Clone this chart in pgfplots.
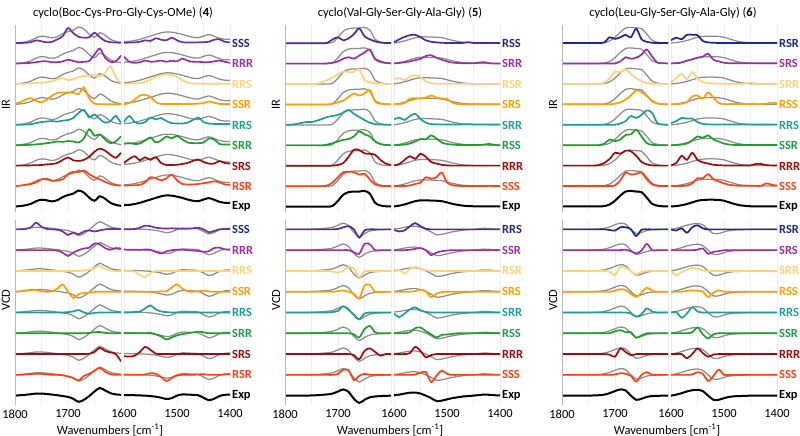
\documentclass[border=0pt]{standalone}
\usepackage{fontspec}
\setmainfont{Carlito}
\usepackage{pgfplots}
\usepackage{pgfplotstable}
\pgfplotsset{compat=1.18}

\definecolor{A1}{HTML}{7030A0}
\definecolor{B1}{HTML}{4B2A9E}
\definecolor{C1}{HTML}{1B2A8C}
\definecolor{K2}{HTML}{9B30A5}
\definecolor{K3}{HTML}{FFD27A}
\definecolor{K4}{HTML}{FFA000}
\definecolor{K5}{HTML}{1E9E9A}
\definecolor{K6}{HTML}{1E9E2A}
\definecolor{K7}{HTML}{A00A0A}
\definecolor{K8}{HTML}{FF4114}
\definecolor{GR}{HTML}{8C8C8C}
\definecolor{L1}{HTML}{1F2A80}
\colorlet{A2}{K2}\colorlet{A3}{K3}\colorlet{A4}{K4}\colorlet{A5}{K5}\colorlet{A6}{K6}\colorlet{A7}{K7}\colorlet{A8}{K8}
\colorlet{B2}{K2}\colorlet{B3}{K3}\colorlet{B4}{K4}\colorlet{B5}{K5}\colorlet{B6}{K6}\colorlet{B7}{K7}\colorlet{B8}{K8}
\colorlet{C2}{K2}\colorlet{C3}{K3}\colorlet{C4}{K4}\colorlet{C5}{K5}\colorlet{C6}{K6}\colorlet{C7}{K7}\colorlet{C8}{K8}
\colorlet{L2}{K2}\colorlet{L3}{K3}\colorlet{L4}{K4}\colorlet{L5}{K5}\definecolor{L6}{HTML}{239B4A}\colorlet{L7}{K7}\colorlet{L8}{K8}

% values in percent of the trace spacing
\pgfplotstableread{
x e c1 c2 c3 c4 c5 c6 c7 c8
1800 2 2 2 2 5 2 2 2 2
1790 4 2 2 2 12 2 2 2 4
1780 8 3 3 3 25 3 3 2 8
1770 15 6 5 4 32 5 4 3 12
1760 28 15 8 6 18 10 6 4 20
1750 35 10 12 8 12 15 8 5 35
1740 32 5 12 10 25 18 12 8 38
1730 27 8 8 15 45 20 15 10 28
1720 33 20 8 25 58 17 20 15 30
1710 48 35 12 30 60 22 18 30 35
1700 58 75 20 20 60 25 22 42 60
1690 65 50 14 25 58 35 20 28 72
1680 80 32 8 35 52 60 15 25 70
1670 70 28 10 40 85 75 35 30 78
1660 45 30 14 42 30 38 80 45 60
1650 30 52 45 45 5 52 48 70 45
1640 52 30 75 40 3 30 55 85 35
1630 40 12 30 55 2 12 30 75 22
1620 20 6 10 88 2 20 12 55 12
1610 10 4 12 35 2 45 20 40 6
1600 5 3 40 5 2 10 45 65 4
}\PAIRL
\pgfplotstableread{
x e c1 c2 c3 c4 c5 c6 c7 c8
1600 8 3 35 2 2 15 10 15 5
1590 10 4 10 3 8 45 12 35 5
1580 14 5 5 4 25 15 8 48 6
1570 20 8 8 6 45 8 10 28 8
1560 28 15 16 12 48 15 25 43 20
1550 36 12 10 22 38 37 40 30 45
1540 44 25 12 35 12 28 15 43 40
1530 52 18 16 45 4 35 25 15 30
1520 56 15 10 48 3 20 45 5 40
1510 55 28 15 45 3 10 35 5 58
1500 50 15 12 35 3 8 48 6 30
1490 44 6 26 20 3 8 30 10 12
1480 36 4 15 8 3 12 15 15 10
1470 30 4 10 4 4 25 12 25 10
1460 28 5 10 3 5 37 12 32 12
1450 36 6 8 3 8 15 15 20 16
1440 43 8 8 3 16 8 35 12 20
1430 35 18 12 3 10 6 30 12 25
1420 25 20 16 3 4 6 8 24 20
1410 20 8 10 3 3 6 5 15 10
1400 20 5 5 3 3 6 5 12 8
}\PAIRR
\pgfplotstableread{
x e c1 c2 c3 c4 c5 c6 c7 c8
1800 0 0 0 0 0 0 0 0 0
1790 2 0 0 0 2 0 0 0 0
1780 4 2 0 0 6 0 0 0 2
1770 7 10 0 0 10 0 0 0 4
1760 10 32 0 0 8 0 0 0 5
1750 10 12 0 0 2 0 0 0 5
1740 8 2 0 0 0 0 0 0 2
1730 5 0 0 0 2 0 0 0 0
1720 2 -2 -2 0 15 0 0 0 0
1710 -2 -10 -12 0 35 0 0 0 -2
1700 -6 -27 -28 0 0 2 0 0 -8
1690 -15 -15 -12 0 -30 5 0 0 -15
1680 -30 -24 0 0 -12 12 0 0 -27
1670 -20 -10 8 2 -6 0 0 0 -5
1660 -2 -5 12 5 -4 -6 2 2 5
1650 20 -10 32 15 -2 -2 5 10 20
1640 37 -5 28 25 0 0 6 30 34
1630 25 0 10 10 0 0 2 15 15
1620 12 2 2 2 0 0 0 8 3
1610 6 2 10 0 0 0 0 0 0
1600 4 2 8 0 0 0 0 -35 0
}\PAVL
\pgfplotstableread{
x e c1 c2 c3 c4 c5 c6 c7 c8
1600 3 0 3 0 0 0 0 -10 0
1590 2 0 2 0 0 0 0 -12 0
1580 2 2 2 -3 0 2 0 -8 0
1570 1 8 2 -20 0 5 0 10 0
1560 0 18 3 -30 0 20 0 35 2
1550 -2 15 2 -10 0 34 2 20 8
1540 -5 8 -8 0 0 15 -5 2 5
1530 -10 5 -16 0 2 5 -15 0 -10
1520 -16 4 -6 0 2 2 -30 0 -30
1510 -12 5 0 0 20 0 -20 0 -15
1500 0 4 2 0 35 0 -10 0 -3
1490 6 3 2 0 15 0 -4 0 0
1480 5 3 0 0 2 0 0 0 0
1470 4 5 -2 0 0 0 4 0 0
1460 2 8 -4 0 2 0 8 0 2
1450 -10 0 -8 0 5 0 5 0 3
1440 -22 -14 -5 0 2 0 0 0 0
1430 -15 -8 10 0 0 0 0 0 0
1420 -2 0 12 0 0 0 0 0 0
1410 4 2 4 0 0 0 0 0 2
1400 5 2 2 0 0 0 0 0 3
}\PAVR
\pgfplotstableread{
x e c1 c2 c3 c4 c5 c6 c7 c8
1800 1 1 1 1 1 1 1 1 1
1790 1 1 1 1 1 2 1 1 1
1780 1 1 1 1 1 5 1 1 1
1770 1 1 1 1 1 10 1 1 1
1760 1 1 1 1 1 15 1 1 1
1750 1 1 1 1 1 15 1 1 1
1740 1 1 1 3 1 22 1 1 1
1730 1 1 1 10 1 30 1 1 1
1720 1 3 2 22 1 40 5 1 5
1710 5 20 5 32 5 45 12 2 20
1700 30 30 12 50 12 50 20 5 45
1690 60 15 25 62 20 62 28 15 70
1680 72 25 32 60 38 75 32 45 72
1670 75 45 25 60 55 55 45 80 70
1660 75 73 40 72 45 40 70 78 58
1650 78 35 55 20 55 25 55 62 62
1640 65 20 70 10 72 12 45 60 35
1630 20 10 25 5 15 5 20 55 10
1620 7 4 12 3 5 3 8 30 3
1610 3 2 5 2 2 2 3 12 2
1600 2 2 2 2 2 2 2 5 2
}\PBIRL
\pgfplotstableread{
x e c1 c2 c3 c4 c5 c6 c7 c8
1600 2 5 2 25 2 28 2 3 2
1590 6 20 4 30 3 37 3 10 2
1580 12 32 8 20 8 25 5 30 2
1570 20 40 12 38 30 45 10 48 5
1560 28 42 18 44 32 55 20 35 12
1550 32 30 25 35 30 30 32 60 20
1540 32 15 38 15 35 12 30 45 45
1530 31 8 42 5 45 5 50 20 38
1520 30 5 30 3 35 4 35 12 45
1510 28 3 20 2 30 3 15 6 68
1500 22 2 12 2 28 3 8 3 20
1490 15 2 6 2 10 3 5 2 6
1480 10 2 4 2 3 3 3 2 3
1470 6 2 3 2 2 3 3 2 2
1460 4 6 3 2 2 5 3 2 2
1450 3 2 3 2 2 3 3 2 2
1440 3 2 6 2 2 3 3 2 2
1430 3 2 8 2 2 3 5 2 2
1420 2 2 3 2 2 3 8 2 3
1410 2 2 2 2 2 3 3 2 2
1400 2 2 2 2 2 3 2 2 2
}\PBIRR
\pgfplotstableread{
x e c1 c2 c3 c4 c5 c6 c7 c8
1800 0 0 0 0 0 0 0 0 0
1790 0 0 0 0 0 0 0 0 0
1780 0 0 0 0 0 0 0 0 0
1770 0 0 0 0 0 0 0 0 0
1760 0 0 0 0 0 0 0 0 0
1750 1 0 0 0 0 0 0 0 0
1740 2 0 0 0 0 0 0 0 0
1730 4 0 0 0 0 0 0 0 0
1720 6 0 0 0 0 0 0 0 0
1710 10 0 0 -3 0 2 0 0 0
1700 20 2 0 -8 3 8 0 0 5
1690 30 10 0 0 6 30 0 0 25
1680 18 15 0 18 0 12 0 0 22
1670 -15 0 -10 10 -10 -10 -5 -5 -25
1660 -35 -40 -18 -32 -32 -32 -20 -25 -5
1650 -20 -5 30 -2 30 -5 20 15 5
1640 -8 0 28 0 32 0 35 28 0
1630 -4 0 0 0 0 0 5 10 0
1620 -2 0 0 0 0 0 0 -8 0
1610 -1 0 0 0 0 0 0 0 0
1600 0 0 0 0 0 0 0 0 0
}\PBVL
\pgfplotstableread{
x e c1 c2 c3 c4 c5 c6 c7 c8
1600 2 -3 0 -5 0 -5 0 0 0
1590 5 -10 0 5 0 -22 0 0 0
1580 10 -5 0 -13 0 -5 0 0 0
1570 14 15 2 10 0 15 5 5 0
1560 15 30 6 20 3 25 25 35 2
1550 10 15 10 10 10 10 28 15 10
1540 0 3 0 3 2 3 10 -16 14
1530 -12 0 -24 0 -26 0 -5 -5 -35
1520 -26 0 -12 0 -10 0 -20 0 -5
1510 -24 0 -5 0 -2 0 -8 0 20
1500 -18 0 -2 0 0 0 -6 0 5
1490 -12 0 0 0 0 0 -3 0 0
1480 -8 0 0 0 0 0 0 0 0
1470 -4 0 0 0 0 0 0 0 0
1460 -2 0 0 0 0 0 0 0 0
1450 0 0 0 0 0 0 0 0 0
1440 3 0 0 0 0 0 0 0 0
1430 5 0 0 0 0 0 0 0 0
1420 4 0 0 0 0 0 0 0 0
1410 2 0 0 0 0 0 0 0 0
1400 1 0 0 0 0 0 0 0 0
}\PBVR
\pgfplotstableread{
x e c1 c2 c3 c4 c5 c6 c7 c8
1800 2 2 2 2 2 2 2 2 2
1790 2 2 2 2 2 2 2 2 2
1780 2 2 2 2 2 2 2 2 2
1770 2 2 2 2 2 2 2 2 2
1760 2 2 2 2 2 2 2 2 2
1750 2 2 2 2 2 2 2 2 2
1740 2 2 2 2 2 2 2 2 2
1730 2 2 2 2 2 2 2 5 2
1720 4 5 2 8 2 2 10 15 2
1710 12 30 2 30 2 2 30 35 2
1700 30 22 2 62 5 2 22 65 5
1690 55 30 12 58 12 8 30 60 30
1680 75 42 32 72 25 20 52 75 68
1670 78 30 25 50 45 45 55 72 58
1660 75 72 30 30 70 35 78 50 62
1650 72 20 45 15 62 50 45 20 68
1640 45 8 70 6 42 72 12 8 35
1630 15 3 35 3 20 60 4 3 10
1620 6 2 6 2 6 10 2 2 3
1610 3 2 3 2 3 3 2 2 2
1600 2 2 2 2 2 2 2 2 2
}\PCIRL
\pgfplotstableread{
x e c1 c2 c3 c4 c5 c6 c7 c8
1600 2 15 2 10 2 10 2 3 2
1590 4 28 3 30 3 20 3 15 2
1580 8 20 6 50 5 35 5 50 2
1570 14 42 16 25 12 32 10 30 5
1560 22 42 22 60 40 32 25 65 15
1550 30 40 30 28 45 15 45 30 40
1540 34 12 35 10 30 6 38 18 40
1530 35 5 50 6 60 4 50 12 60
1520 35 3 20 4 35 3 30 6 35
1510 34 2 12 3 8 3 20 4 25
1500 30 2 5 3 3 3 10 3 15
1490 22 2 3 3 3 3 5 3 8
1480 14 2 3 3 3 3 3 3 5
1470 8 2 3 3 3 3 3 3 3
1460 5 2 3 3 3 3 3 3 3
1450 3 2 3 8 3 3 3 3 3
1440 2 2 3 3 3 3 3 10 3
1430 2 2 3 3 3 3 3 10 3
1420 2 2 3 3 5 3 3 4 15
1410 2 2 3 3 10 3 3 3 8
1400 2 2 3 3 5 3 3 3 4
}\PCIRR
\pgfplotstableread{
x e c1 c2 c3 c4 c5 c6 c7 c8
1800 0 0 0 0 0 0 0 0 0
1790 0 0 0 0 0 0 0 0 0
1780 0 0 0 0 0 0 0 0 0
1770 0 0 0 0 0 0 0 0 0
1760 0 0 0 0 0 0 0 0 0
1750 0 0 0 0 0 0 0 0 0
1740 1 0 0 0 0 0 0 0 0
1730 2 0 0 0 0 0 0 0 0
1720 5 0 0 0 0 0 0 0 0
1710 12 -3 0 -5 0 0 0 -3 0
1700 22 -6 0 -20 5 0 10 -13 2
1690 30 10 0 20 12 0 15 27 8
1680 25 10 2 15 8 0 5 10 5
1670 0 0 -5 0 -10 -5 5 -5 -5
1660 -20 -32 -16 -16 -25 -20 -22 0 -32
1650 -15 -2 -2 -5 -5 -8 -10 0 0
1640 -6 0 30 0 20 20 0 0 13
1630 -2 0 0 0 5 5 0 0 0
1620 -1 0 0 0 0 0 0 0 0
1610 0 0 0 0 0 0 0 0 0
1600 0 0 0 0 0 0 0 0 0
}\PCVL
\pgfplotstableread{
x e c1 c2 c3 c4 c5 c6 c7 c8
1600 0 0 0 0 0 0 0 0 0
1590 5 -6 0 -22 0 2 0 0 0
1580 12 5 0 -5 0 -25 0 0 0
1570 20 -16 0 5 4 -5 0 -20 0
1560 26 10 0 15 6 25 5 0 2
1550 28 20 2 10 5 5 27 27 13
1540 22 5 8 2 0 0 -5 5 5
1530 0 0 -18 0 -25 0 -25 -13 -30
1520 -20 0 -8 0 -5 0 -5 -2 -5
1510 -20 0 -5 0 6 0 0 0 25
1500 -12 0 0 0 0 0 0 0 0
1490 -6 0 0 0 0 0 0 0 0
1480 -3 0 0 0 0 0 0 0 0
1470 -2 0 0 0 0 0 0 0 0
1460 -1 0 0 0 0 0 0 0 0
1450 0 0 0 0 0 0 0 0 0
1440 0 0 0 0 0 0 0 0 0
1430 0 0 0 0 0 0 0 0 0
1420 0 0 0 0 0 0 0 0 0
1410 0 0 0 0 0 0 0 0 0
1400 0 0 0 0 0 0 0 0 0
}\PCVR

\tikzset{lab/.style={anchor=west, xshift=2bp, inner sep=0pt, font=\fontsize{12.5}{14}\selectfont\bfseries}}
\pgfplotsset{
  gline/.style={draw=GR, line width=1.25bp, smooth, tension=0.5, mark=none},
  cline/.style={line width=1.7bp, smooth, tension=0.5, mark=none},
  kline/.style={draw=black, line width=2bp, smooth, tension=0.5, mark=none},
  sub/.style={scale only axis, width=106bp, x dir=reverse, clip mode=individual,
    axis line style={draw=none}, xtick style={draw=none}, ytick=\empty,
    major tick length=0pt, xmajorgrids, grid style={gray!14, line width=0.4bp},
    tick label style={font=\fontsize{12.5}{14}\selectfont},
    /pgf/number format/assume math mode=true, anchor=south west},
  irax/.style={height=187bp, ymin=-0.25, ymax=8.9, xticklabels={}},
  vcdax/.style={height=185bp, ymin=-0.45, ymax=8.45, xticklabel style={yshift=-1bp}},
  Lax/.style={xmin=1600, xmax=1800, xtick={1800,1750,1700,1650,1600}},
  Rax/.style={xmin=1400, xmax=1600, xtick={1600,1550,1500,1450,1400}},
  Lvl/.style={xticklabels={1800,,1700,,}},
  Rvl/.style={xticklabels={1600,,1500,,1400}},
}
\newcommand{\stack}[2]{%
  \pgfplotsinvokeforeach{1,...,8}{%
    \addplot[gline] table[x=x, y expr=\thisrow{e}/100+9-##1] {#1};
    \addplot[cline, draw=#2##1] table[x=x, y expr=\thisrow{c##1}/100+9-##1] {#1};
  }%
  \addplot[kline] table[x=x, y expr=\thisrow{e}/100] {#1};
}
\newcommand{\yline}{\draw[gray!55, line width=0.5bp] (axis description cs:0,0) -- (axis description cs:0,1);}
\newcommand{\lbls}[8]{%
  \node[lab,text=L1] at (axis cs:1400,8) {#1};
  \node[lab,text=L2] at (axis cs:1400,7) {#2};
  \node[lab,text=L3] at (axis cs:1400,6) {#3};
  \node[lab,text=L4] at (axis cs:1400,5) {#4};
  \node[lab,text=L5] at (axis cs:1400,4) {#5};
  \node[lab,text=L6] at (axis cs:1400,3) {#6};
  \node[lab,text=L7] at (axis cs:1400,2) {#7};
  \node[lab,text=L8] at (axis cs:1400,1) {#8};
  \node[lab,text=black] at (axis cs:1400,0) {Exp};
}

\begin{document}
\begin{tikzpicture}
\path[use as bounding box] (0,0) rectangle (800bp,436bp);
% ---------- panel 4
\begin{axis}[sub,irax,Lax,at={(15bp,224bp)}]
\stack{\PAIRL}{A}\yline
\end{axis}
\begin{axis}[sub,irax,Rax,at={(124bp,224bp)}]
\stack{\PAIRR}{A}
\lbls{SSS}{RRR}{RRS}{SSR}{RRS}{SRR}{SRS}{RSR}
\end{axis}
\begin{axis}[sub,vcdax,Lax,Lvl,at={(15bp,31bp)}]
\stack{\PAVL}{A}\yline
\end{axis}
\begin{axis}[sub,vcdax,Rax,Rvl,at={(124bp,31bp)}]
\stack{\PAVR}{A}
\lbls{SSS}{RRR}{RRS}{SSR}{RRS}{SRR}{SRS}{RSR}
\end{axis}
% ---------- panel 5
\begin{axis}[sub,irax,Lax,at={(285bp,224bp)}]
\stack{\PBIRL}{B}\yline
\end{axis}
\begin{axis}[sub,irax,Rax,at={(394bp,224bp)}]
\stack{\PBIRR}{B}
\lbls{RSS}{SRR}{RSR}{SRS}{SRR}{RSS}{RRR}{SSS}
\end{axis}
\begin{axis}[sub,vcdax,Lax,Lvl,at={(285bp,31bp)}]
\stack{\PBVL}{B}\yline
\end{axis}
\begin{axis}[sub,vcdax,Rax,Rvl,at={(394bp,31bp)}]
\stack{\PBVR}{B}
\lbls{RRS}{SSR}{RSR}{SRS}{SRR}{RSS}{RRR}{SSS}
\end{axis}
% ---------- panel 6
\begin{axis}[sub,irax,Lax,at={(562bp,224bp)}]
\stack{\PCIRL}{C}\yline
\end{axis}
\begin{axis}[sub,irax,Rax,at={(671bp,224bp)}]
\stack{\PCIRR}{C}
\lbls{RSR}{SRS}{SRR}{RSS}{RRS}{SSR}{RRR}{SSS}
\end{axis}
\begin{axis}[sub,vcdax,Lax,Lvl,at={(562bp,31bp)}]
\stack{\PCVL}{C}\yline
\end{axis}
\begin{axis}[sub,vcdax,Rax,Rvl,at={(671bp,31bp)}]
\stack{\PCVR}{C}
\lbls{RSR}{SRS}{SRR}{RSS}{RRS}{SSR}{RRR}{SSS}
\end{axis}
% ---------- texts
\begin{scope}[every node/.style={font=\fontsize{12.5}{14}\selectfont, inner sep=0pt}]
\node at (123bp,423bp) {cyclo(Boc-Cys-Pro-Gly-Cys-OMe) (\textbf{4})};
\node at (400bp,423bp) {cyclo(Val-Gly-Ser-Gly-Ala-Gly) (\textbf{5})};
\node at (673bp,423bp) {cyclo(Leu-Gly-Ser-Gly-Ala-Gly) (\textbf{6})};
\node[rotate=90] at (6bp,331bp) {IR};
\node[rotate=90] at (6bp,136bp) {VCD};
\node[rotate=90] at (276bp,331bp) {IR};
\node[rotate=90] at (276bp,136bp) {VCD};
\node[rotate=90] at (553bp,331bp) {IR};
\node[rotate=90] at (553bp,136bp) {VCD};
\node at (110bp,6bp) {Wavenumbers [cm\textsuperscript{-1}]};
\node at (390bp,6bp) {Wavenumbers [cm\textsuperscript{-1}]};
\node at (667bp,6bp) {Wavenumbers [cm\textsuperscript{-1}]};
\end{scope}
\end{tikzpicture}
\end{document}
